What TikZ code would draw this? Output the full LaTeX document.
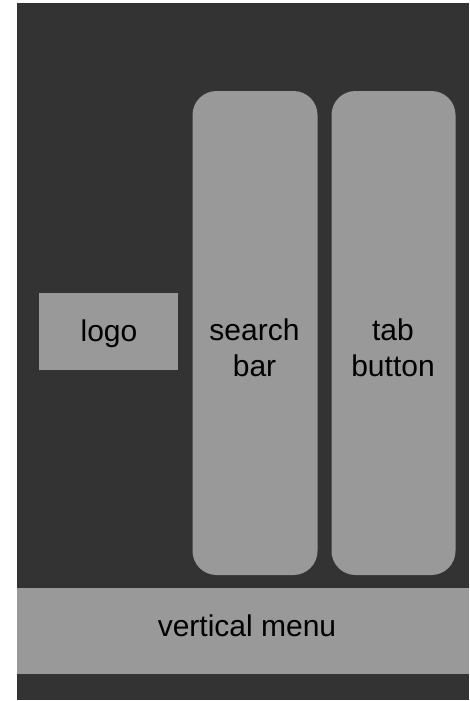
\documentclass[tikz,border=0pt]{standalone}
\usepackage{fontspec}
\setmainfont{Liberation Sans}
\definecolor{bgdark}{HTML}{333333}
\definecolor{boxgray}{HTML}{999999}
\begin{document}
\begin{tikzpicture}[x=1pt,y=-1pt,
  panel/.style={fill=boxgray,draw=none,inner sep=0pt},
  roundpanel/.style={panel,rounded corners=24pt},
  lbl/.style={inner sep=0pt,anchor=base,align=center,text=black,
    font=\fontsize{30}{36}\selectfont}]
\useasboundingbox (0,0) rectangle (469,701);
\fill[bgdark] (17,3) rectangle (469,700);
\node[panel,minimum width=139pt,minimum height=77pt] (logo) at (108.5,331.5) {};
\node[roundpanel,minimum width=125pt,minimum height=484pt] (search) at (255,333) {};
\node[roundpanel,minimum width=124pt,minimum height=484pt] (tab) at (393.5,333) {};
\node[panel,minimum width=452pt,minimum height=86pt] (menu) at (243,631) {};
\node[lbl] (logotxt) at (109,341) {logo};
\node[lbl] (searchtxt) at (254.5,376) {search\\bar};
\node[lbl] (tabtxt) at (393,376) {tab\\button};
\node[lbl] (menutxt) at (247,636) {vertical menu};
\end{tikzpicture}
\end{document}
